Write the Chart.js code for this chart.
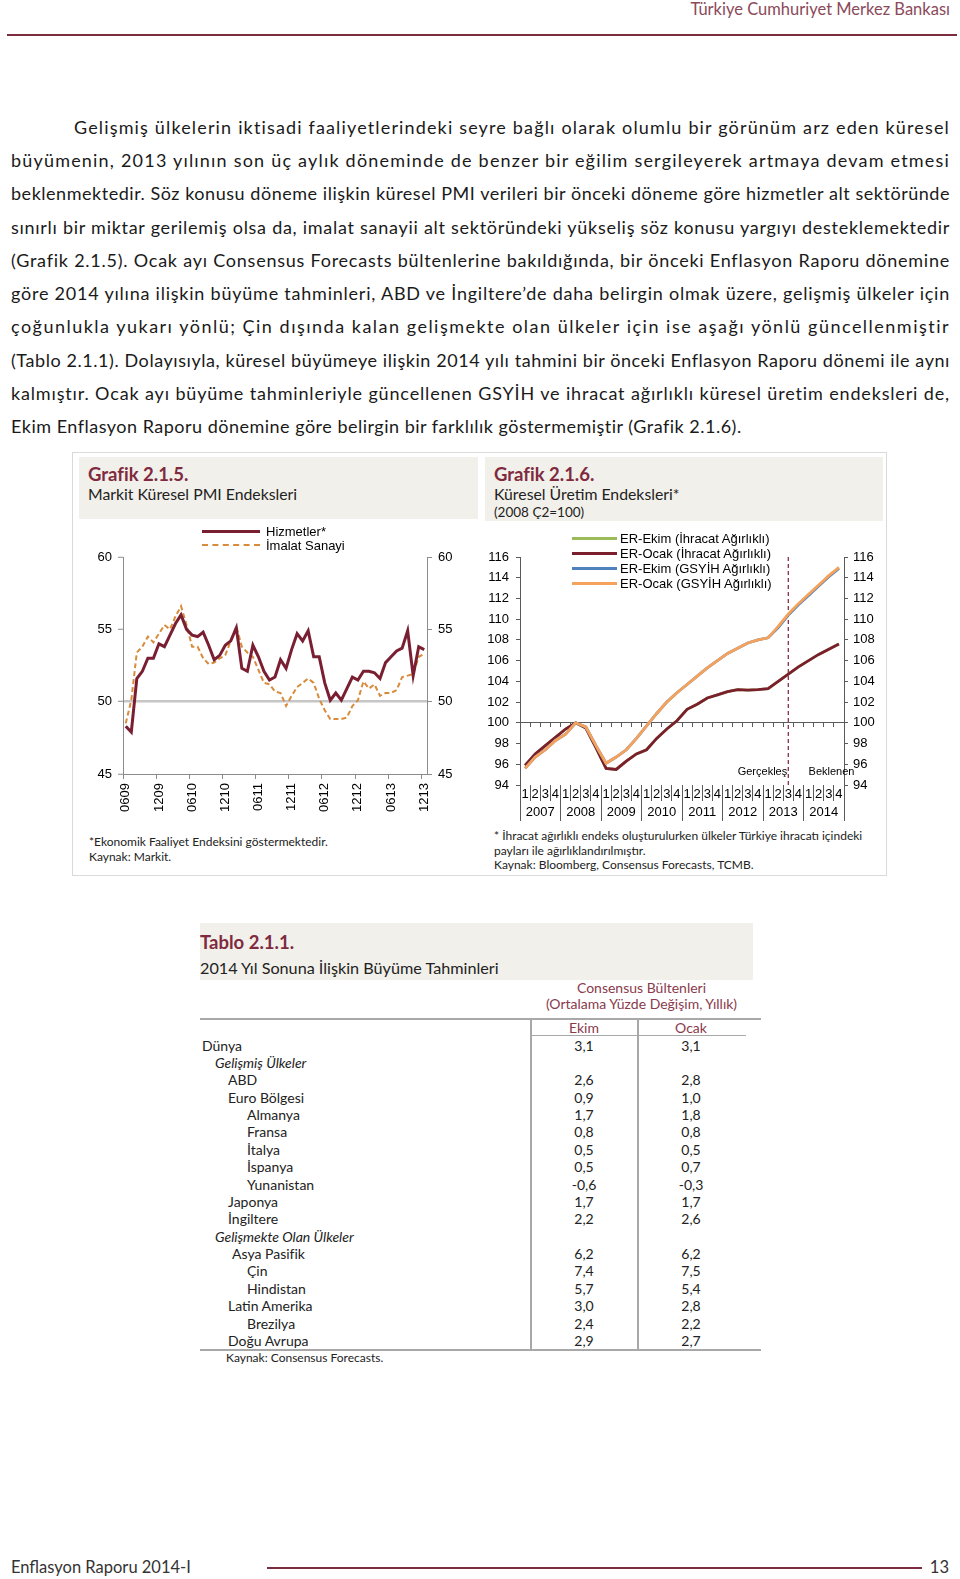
<!DOCTYPE html>
<html lang="tr">
<head>
<meta charset="utf-8">
<title>Enflasyon Raporu 2014-I</title>
<script src="https://cdn.jsdelivr.net/npm/chart.js@4.4.1/dist/chart.umd.min.js"></script>
<style>
html, body { margin: 0; padding: 0; background: #fff; }
body { width: 960px; height: 1579px; position: relative; overflow: hidden;
       font-family: Lato, "Open Sans", sans-serif; color: #1e1e1e; }
.abs { position: absolute; white-space: nowrap; }
.ust-baslik { right: 10px; top: 0; font-size: 16.5px; color: #8b4a5a; line-height: 18px; }
.ust-cizgi { left: 7px; top: 34px; width: 950px; height: 2px; background: #7b2d3f; }
.satir { position: absolute; left: 11px; width: 939px; height: 22px; line-height: 22px;
         font-size: 18px; text-align: justify; text-align-last: justify; color: #1a1a1a; }
.satir.ilk { left: 74px; width: 876px; }
.satir.son { text-align-last: left; }
.grafik-cerceve { left: 72px; top: 452px; width: 815px; height: 424px; border: 1.5px solid #d9d9d9; box-sizing: border-box; }
.bej { background: #f2f0ea; }
.baslik { font-weight: bold; font-size: 18.5px; color: #7f2a3f; }
.altbaslik { font-size: 15.8px; color: #222; }
.dipnot { font-size: 12px; color: #222; line-height: 14.5px; }
canvas { position: absolute; }
.lejant { position: absolute; font-family: "Liberation Sans", Arial, sans-serif; font-size: 13px; color: #000; }
.lejant-satir { display: flex; align-items: center; white-space: nowrap; }
.lejant-cizgi { display: inline-block; height: 0; }
.tablo-yazi { font-size: 14px; line-height: 18px; color: #222; }
.bordo { color: #8a3a4c; }
.cizgi-gri { background: #a8a8a8; }
.alt-yazi { font-size: 16.5px; color: #333; }
</style>
</head>
<body>

<div class="abs ust-baslik">Türkiye Cumhuriyet Merkez Bankası</div>
<div class="abs ust-cizgi"></div>

<div class="satir ilk" style="top:116px">Gelişmiş ülkelerin iktisadi faaliyetlerindeki seyre bağlı olarak olumlu bir görünüm arz eden küresel</div>
<div class="satir" style="top:149px">büyümenin, 2013 yılının son üç aylık döneminde de benzer bir eğilim sergileyerek artmaya devam etmesi</div>
<div class="satir" style="top:182px">beklenmektedir. Söz konusu döneme ilişkin küresel PMI verileri bir önceki döneme göre hizmetler alt sektöründe</div>
<div class="satir" style="top:216px">sınırlı bir miktar gerilemiş olsa da, imalat sanayii alt sektöründeki yükseliş söz konusu yargıyı desteklemektedir</div>
<div class="satir" style="top:249px">(Grafik 2.1.5). Ocak ayı Consensus Forecasts bültenlerine bakıldığında, bir önceki Enflasyon Raporu dönemine</div>
<div class="satir" style="top:282px">göre 2014 yılına ilişkin büyüme tahminleri, ABD ve İngiltere’de daha belirgin olmak üzere, gelişmiş ülkeler için</div>
<div class="satir" style="top:315px">çoğunlukla yukarı yönlü; Çin dışında kalan gelişmekte olan ülkeler için ise aşağı yönlü güncellenmiştir</div>
<div class="satir" style="top:349px">(Tablo 2.1.1). Dolayısıyla, küresel büyümeye ilişkin 2014 yılı tahmini bir önceki Enflasyon Raporu dönemi ile aynı</div>
<div class="satir" style="top:382px">kalmıştır. Ocak ayı büyüme tahminleriyle güncellenen GSYİH ve ihracat ağırlıklı küresel üretim endeksleri de,</div>
<div class="satir son" style="top:415px" data-hedef="731">Ekim Enflasyon Raporu dönemine göre belirgin bir farklılık göstermemiştir (Grafik 2.1.6).</div>

<div class="abs grafik-cerceve"></div>
<div class="abs bej" style="left:79px; top:457px; width:399px; height:62px;"></div>
<div class="abs bej" style="left:485px; top:457px; width:398px; height:64px;"></div>

<div class="abs baslik" style="left:88px; top:463px;">Grafik 2.1.5.</div>
<div class="abs altbaslik" style="left:88px; top:484px;">Markit Küresel PMI Endeksleri</div>
<div class="abs baslik" style="left:494px; top:463px;">Grafik 2.1.6.</div>
<div class="abs altbaslik" style="left:494px; top:484px;">Küresel Üretim Endeksleri*</div>
<div class="abs" style="left:494px; top:504px; font-size:13.5px; color:#222;">(2008 Ç2=100)</div>

<canvas id="pmiGrafik" width="400" height="310" style="left:78px; top:519px;"></canvas>
<canvas id="uretimGrafik" width="400" height="306" style="left:484px; top:521px;"></canvas>
<div id="pmiLejant" class="lejant" style="left:202px; top:524px;"></div>
<div id="uretimLejant" class="lejant" style="left:572px; top:531px;"></div>

<div class="abs dipnot" style="left:89px; top:835px;">*Ekonomik Faaliyet Endeksini göstermektedir.<br>Kaynak: Markit.</div>
<div class="abs dipnot" style="left:494px; top:829px;">* İhracat ağırlıklı endeks oluşturulurken ülkeler Türkiye ihracatı içindeki<br>payları ile ağırlıklandırılmıştır.<br>Kaynak: Bloomberg, Consensus Forecasts, TCMB.</div>

<div class="abs bej" style="left:200px; top:923px; width:553px; height:57px;"></div>
<div class="abs baslik" style="left:200px; top:931px;">Tablo 2.1.1.</div>
<div class="abs altbaslik" style="left:200px; top:958px; font-size:16.2px;">2014 Yıl Sonuna İlişkin Büyüme Tahminleri</div>
<div class="abs tablo-yazi bordo" style="left:541px; width:201px; top:979px; text-align:center;">Consensus Bültenleri</div>
<div class="abs tablo-yazi bordo" style="left:531px; width:221px; top:995px; text-align:center;">(Ortalama Yüzde Değişim, Yıllık)</div>
<div class="abs cizgi-gri" style="left:200px; top:1018px; width:561px; height:1.5px;"></div>
<div class="abs tablo-yazi bordo" style="left:534px; width:100px; top:1019px; text-align:center;">Ekim</div>
<div class="abs tablo-yazi bordo" style="left:641px; width:100px; top:1019px; text-align:center;">Ocak</div>
<div class="abs cizgi-gri" style="left:531px; top:1035px; width:215px; height:1px;"></div>
<div class="abs cizgi-gri" style="left:530px; top:1019px; width:1.5px; height:331px;"></div>
<div class="abs cizgi-gri" style="left:637px; top:1019px; width:1.5px; height:331px;"></div>
<div id="tablo"></div>
<div class="abs cizgi-gri" style="left:200px; top:1349px; width:561px; height:1.5px;"></div>
<div class="abs" style="left:226px; top:1350px; font-size:12px; color:#222;">Kaynak: Consensus Forecasts.</div>

<div class="abs alt-yazi" style="left:11px; top:1557px;">Enflasyon Raporu  2014-I</div>
<div class="abs" style="left:267px; top:1567px; width:655px; height:2px; background:#7b2d3f;"></div>
<div class="abs alt-yazi" style="right:11px; top:1557px;">13</div>

<script>
// Grafik 2.1.5 - aylık PMI (Haziran 2009 - Aralık 2013)
const pmiAylar = [
  '0609','0709','0809','0909','1009','1109','1209',
  '0110','0210','0310','0410','0510','0610','0710','0810','0910','1010','1110','1210',
  '0111','0211','0311','0411','0511','0611','0711','0811','0911','1011','1111','1211',
  '0112','0212','0312','0412','0512','0612','0712','0812','0912','1012','1112','1212',
  '0113','0213','0313','0413','0513','0613','0713','0813','0913','1013','1113','1213'
];
const hizmetlerPMI = [
  48.3, 47.9, 51.6, 52.1, 53.0, 53.0, 54.0, 53.8, 54.6, 55.4,
  56.0, 55.0, 54.6, 54.5, 54.8, 53.9, 52.9, 53.2, 53.9, 54.2,
  55.1, 52.3, 52.1, 53.9, 53.1, 52.1, 51.5, 51.7, 52.9, 52.3,
  53.6, 54.7, 54.2, 54.9, 53.1, 53.1, 51.3, 50.1, 50.6, 50.1,
  50.9, 51.7, 51.5, 52.1, 52.1, 52.0, 51.6, 52.7, 53.1, 53.5,
  53.7, 54.9, 51.8, 53.8, 53.6
];
const imalatPMI = [
  48.5, 50.1, 53.4, 53.8, 54.5, 54.1, 54.7, 55.3, 55.0, 55.9,
  56.6, 55.3, 53.8, 53.8, 53.0, 52.6, 52.7, 53.0, 53.2, 54.2,
  55.2, 53.8, 53.4, 53.1, 52.2, 51.3, 51.2, 50.7, 50.6, 49.7,
  50.4, 51.0, 51.3, 51.6, 51.3, 50.2, 49.4, 48.8, 48.8, 48.8,
  48.9, 49.7, 50.1, 51.4, 50.9, 51.2, 50.4, 50.6, 50.6, 50.8,
  51.7, 51.8, 51.9, 53.1, 53.3
];

// Grafik 2.1.6 - çeyreklik üretim endeksleri (2008 Ç2=100)
const ceyrekler = [
  '2007-1','2007-2','2007-3','2007-4','2008-1','2008-2','2008-3','2008-4',
  '2009-1','2009-2','2009-3','2009-4','2010-1','2010-2','2010-3','2010-4',
  '2011-1','2011-2','2011-3','2011-4','2012-1','2012-2','2012-3','2012-4',
  '2013-1','2013-2','2013-3','2013-4','2014-1','2014-2','2014-3','2014-4'
];
const yillar = ['2007','2008','2009','2010','2011','2012','2013','2014'];
const erEkimIhracat = [
  95.9, 97.0, 97.8, 98.6, 99.4, 100.0, 99.5, 97.6,
  95.6, 95.5, 96.3, 97.0, 97.4, 98.5, 99.4, 100.2,
  101.3, 101.8, 102.4, 102.7, 103.0, 103.2, 103.15, 103.2,
  103.3, 104.0, 104.7, 105.4, 106.0, 106.6, 107.1, 107.6
];
const erOcakIhracat = [
  95.9, 97.0, 97.8, 98.6, 99.4, 100.0, 99.5, 97.6,
  95.6, 95.5, 96.3, 97.0, 97.4, 98.5, 99.4, 100.2,
  101.3, 101.8, 102.4, 102.7, 103.0, 103.2, 103.15, 103.2,
  103.3, 104.0, 104.7, 105.4, 106.0, 106.6, 107.1, 107.6
];
const erEkimGsyih = [
  95.6, 96.7, 97.4, 98.3, 98.9, 100.0, 99.6, 97.8,
  96.1, 96.7, 97.4, 98.5, 99.7, 100.9, 102.0, 102.9,
  103.7, 104.5, 105.3, 106.0, 106.7, 107.2, 107.7, 108.0,
  108.2, 109.2, 110.4, 111.4, 112.3, 113.2, 114.1, 114.9
];
const erOcakGsyih = [
  95.6, 96.7, 97.4, 98.3, 98.9, 100.0, 99.6, 97.8,
  96.1, 96.7, 97.4, 98.5, 99.7, 100.9, 102.0, 102.9,
  103.7, 104.5, 105.3, 106.0, 106.7, 107.2, 107.7, 108.0,
  108.2, 109.3, 110.5, 111.5, 112.4, 113.3, 114.2, 115.0
];
const ayrimCeyregi = '2013-3';

// Tablo 2.1.1
const ulkeler = ['Dünya','Gelişmiş Ülkeler','ABD','Euro Bölgesi','Almanya','Fransa','İtalya','İspanya',
  'Yunanistan','Japonya','İngiltere','Gelişmekte Olan Ülkeler','Asya Pasifik','Çin','Hindistan',
  'Latin Amerika','Brezilya','Doğu Avrupa'];
const duzeyler = [0, 1, 2, 2, 3, 3, 3, 3, 3, 2, 2, 1, 2, 3, 3, 2, 3, 2];
const ekimTahmin = [3.1, null, 2.6, 0.9, 1.7, 0.8, 0.5, 0.5, -0.6, 1.7, 2.2, null, 6.2, 7.4, 5.7, 3.0, 2.4, 2.9];
const ocakTahmin = [3.1, null, 2.8, 1.0, 1.8, 0.8, 0.5, 0.7, -0.3, 1.7, 2.6, null, 6.2, 7.5, 5.4, 2.8, 2.2, 2.7];

// paragraf satırlarını harf aralığıyla doldur (ölçüm iki yana yaslamadan etkilenmesin diye inline-block)
document.querySelectorAll('.satir').forEach(function(el) {
    var metin = el.textContent;
    var olcu = document.createElement('span');
    olcu.style.whiteSpace = 'nowrap';
    olcu.style.display = 'inline-block';
    olcu.textContent = metin;
    el.textContent = '';
    el.appendChild(olcu);
    var dogal = olcu.getBoundingClientRect().width;
    var hedef = el.dataset.hedef ? parseFloat(el.dataset.hedef) : el.clientWidth - 1;
    var ls = (hedef - dogal) / metin.length;
    if (!el.dataset.hedef && ls > 2.5) ls = 2.5;
    el.textContent = metin;
    el.style.letterSpacing = ls.toFixed(3) + 'px';
});

Chart.defaults.font.family = "'Liberation Sans', Arial, sans-serif";
Chart.defaults.font.size = 13;
Chart.defaults.color = '#000';

const griEksen = '#8c8c8c';

// Grafik 2.1.5
var pmiChart = new Chart(document.getElementById('pmiGrafik'), {
    type: 'line',
    data: {
        labels: pmiAylar,
        datasets: [{
            label: 'Hizmetler*',
            data: hizmetlerPMI,
            borderColor: '#7a1f32',
            borderWidth: 3,
            pointRadius: 0,
            order: 0
        }, {
            label: 'İmalat Sanayi',
            data: imalatPMI,
            borderColor: '#d98b3c',
            borderWidth: 2,
            borderDash: [5, 3],
            pointRadius: 0,
            order: 1
        }]
    },
    options: {
        responsive: false,
        animation: false,
        layout: { padding: { top: 38 } },
        plugins: { legend: { display: false }, tooltip: { enabled: false } },
        scales: {
            x: {
                offset: true,
                border: { color: griEksen },
                grid: {
                    offset: true,
                    drawOnChartArea: false,
                    tickLength: 5,
                    tickColor: function(ctx) { return ctx.index % 6 === 0 ? griEksen : 'rgba(0,0,0,0)'; }
                },
                ticks: {
                    autoSkip: false,
                    minRotation: 90,
                    maxRotation: 90,
                    padding: 4,
                    callback: function(v, i) { return i % 6 === 0 ? pmiAylar[i] : ''; }
                },
                afterFit: function(s) { s.height = 55; }
            },
            y: {
                position: 'left',
                min: 45, max: 60,
                border: { color: griEksen },
                grid: {
                    color: function(ctx) { return ctx.tick && ctx.tick.value === 50 ? '#c6c6c6' : 'rgba(0,0,0,0)'; },
                    lineWidth: 2.5,
                    tickColor: griEksen,
                    tickWidth: 1,
                    tickLength: 5
                },
                ticks: { stepSize: 5, padding: 6 },
                afterFit: function(s) { s.width = 45; }
            },
            y2: {
                position: 'right',
                min: 45, max: 60,
                border: { color: griEksen },
                grid: { drawOnChartArea: false, tickColor: griEksen, tickLength: 5 },
                ticks: { stepSize: 5, padding: 6 },
                afterFit: function(s) { s.width = 51; }
            }
        }
    }
});

// Gerçekleşen / Beklenen notları
const donemNotlari = {
    id: 'donemNotlari',
    afterDatasetsDraw: function(chart) {
        const ctx = chart.ctx;
        const x = chart.scales.x, y = chart.scales.y, alan = chart.chartArea;
        const ayrimX = x.getPixelForValue(ceyrekler.indexOf(ayrimCeyregi));
        const yaziY = y.getPixelForValue(95.3);
        ctx.save();
        ctx.font = "11px 'Liberation Sans', Arial, sans-serif";
        ctx.fillStyle = '#000';
        ctx.textBaseline = 'middle';
        ctx.textAlign = 'left';
        ctx.save();
        ctx.beginPath();
        ctx.rect(alan.left, alan.top, ayrimX - 1 - alan.left, alan.bottom - alan.top);
        ctx.clip();
        ctx.fillText('Gerçekleşen', x.getPixelForValue(ceyrekler.indexOf('2012-2')), yaziY);
        ctx.restore();
        ctx.fillText('Beklenen', x.getPixelForValue(ceyrekler.indexOf('2014-1')), yaziY);
        ctx.restore();
    }
};

const koyuEksen = '#5a5a5a';

// Grafik 2.1.6
var uretimChart = new Chart(document.getElementById('uretimGrafik'), {
    type: 'line',
    data: {
        labels: ceyrekler,
        datasets: [{
            label: 'ER-Ekim (İhracat Ağırlıklı)',
            data: erEkimIhracat,
            borderColor: '#9bbb59', borderWidth: 2.8, pointRadius: 0, order: 3
        }, {
            label: 'ER-Ocak (İhracat Ağırlıklı)',
            data: erOcakIhracat,
            borderColor: '#7b1f2e', borderWidth: 2.8, pointRadius: 0, order: 2
        }, {
            label: 'ER-Ekim (GSYİH Ağırlıklı)',
            data: erEkimGsyih,
            borderColor: '#4f81bd', borderWidth: 2.8, pointRadius: 0, order: 1
        }, {
            label: 'ER-Ocak (GSYİH Ağırlıklı)',
            data: erOcakGsyih,
            borderColor: '#f5a35c', borderWidth: 2.8, pointRadius: 0, order: 0
        }, {
            label: 'ayrım',
            lejantDisi: true,
            data: [{ x: ayrimCeyregi, y: 94 }, { x: ayrimCeyregi, y: 116 }],
            borderColor: '#8b2f45', borderWidth: 1.3, borderDash: [4, 3], pointRadius: 0, order: 4
        }]
    },
    options: {
        responsive: false,
        animation: false,
        layout: { padding: { top: 36 } },
        plugins: { legend: { display: false }, tooltip: { enabled: false } },
        scales: {
            x: {
                offset: true,
                weight: 0,
                border: { display: false },
                grid: { offset: true, drawOnChartArea: false, tickLength: 16, color: koyuEksen },
                ticks: {
                    autoSkip: false, maxRotation: 0, padding: -14,
                    callback: function(v, i) { return ceyrekler[i].slice(5); }
                },
                afterFit: function(s) { s.height = 16; }
            },
            yilEkseni: {
                type: 'category',
                axis: 'x',
                labels: yillar,
                position: 'bottom',
                offset: true,
                weight: 1,
                border: { display: false },
                grid: { offset: true, drawOnChartArea: false, tickLength: 20, color: koyuEksen },
                ticks: { autoSkip: false, maxRotation: 0, padding: -16 },
                afterFit: function(s) { s.height = 26; }
            },
            eksen100: {
                type: 'category',
                axis: 'x',
                labels: ceyrekler,
                position: { y: 100 },
                offset: true,
                border: { color: koyuEksen },
                grid: { offset: true, drawOnChartArea: false, tickLength: 4, color: koyuEksen },
                ticks: { display: false }
            },
            y: {
                position: 'left',
                min: 94, max: 116,
                border: { color: koyuEksen },
                grid: { drawOnChartArea: false, tickLength: 4, color: koyuEksen },
                ticks: { stepSize: 2, padding: 7 },
                afterFit: function(s) { s.width = 36; }
            },
            y2: {
                position: 'right',
                min: 94, max: 116,
                border: { color: koyuEksen },
                grid: { drawOnChartArea: false, tickLength: 4, color: koyuEksen },
                ticks: { stepSize: 2, padding: 5 },
                afterFit: function(s) { s.width = 40; }
            }
        }
    },
    plugins: [donemNotlari]
});

// HTML lejantlar
function lejantYap(chart, kutuId, cizgiGenislik, bosluk, satirYukseklik) {
    var kutu = document.getElementById(kutuId);
    chart.data.datasets.forEach(function(ds) {
        if (ds.lejantDisi) return;
        var satir = document.createElement('div');
        satir.className = 'lejant-satir';
        satir.style.height = satirYukseklik + 'px';
        var cizgi = document.createElement('span');
        cizgi.className = 'lejant-cizgi';
        cizgi.style.width = cizgiGenislik + 'px';
        cizgi.style.borderTop = (ds.borderDash ? 2 : 3) + 'px ' + (ds.borderDash ? 'dashed ' : 'solid ') + ds.borderColor;
        cizgi.style.marginRight = bosluk + 'px';
        var yazi = document.createElement('span');
        yazi.textContent = ds.label;
        satir.appendChild(cizgi);
        satir.appendChild(yazi);
        kutu.appendChild(satir);
    });
}
lejantYap(pmiChart, 'pmiLejant', 58, 6, 14);
lejantYap(uretimChart, 'uretimLejant', 45, 3, 15);

// Tablo satırları
var girinti = [202, 215, 228, 247];
var tablo = document.getElementById('tablo');
function sayi(v) { return v === null ? '' : v.toFixed(1).replace('.', ','); }
ulkeler.forEach(function(ad, i) {
    var ust = Math.round(1045.6 + 17.37 * i - 9);
    var d = document.createElement('div');
    d.className = 'abs tablo-yazi';
    d.style.left = (girinti[duzeyler[i]] + (ad === 'Asya Pasifik' ? 4 : 0)) + 'px';
    d.style.top = ust + 'px';
    if (duzeyler[i] === 1) d.style.fontStyle = 'italic';
    d.textContent = ad;
    tablo.appendChild(d);
    [[ekimTahmin, 534], [ocakTahmin, 641]].forEach(function(kolon) {
        var h = document.createElement('div');
        h.className = 'abs tablo-yazi';
        h.style.left = kolon[1] + 'px';
        h.style.width = '100px';
        h.style.textAlign = 'center';
        h.style.top = ust + 'px';
        h.textContent = sayi(kolon[0][i]);
        tablo.appendChild(h);
    });
});
</script>
</body>
</html>
